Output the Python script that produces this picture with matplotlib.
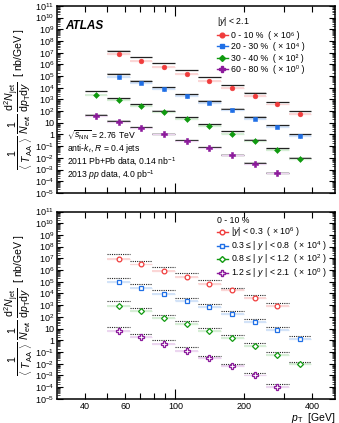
""" jet_spectra.py
Per-event jet yields scaled by 1/<T_AA>, PbPb vs pp reference. """

import numpy as np
import matplotlib.pyplot as plt
from matplotlib.lines import Line2D
from matplotlib.ticker import FixedLocator, FixedFormatter, LogLocator, NullFormatter

plt.rcParams['font.family'] = ['Liberation Sans', 'DejaVu Sans']
plt.rcParams['mathtext.fontset'] = 'custom'
plt.rcParams['mathtext.rm'] = 'Liberation Sans'
plt.rcParams['mathtext.it'] = 'Liberation Sans:italic'
plt.rcParams['mathtext.bf'] = 'Liberation Sans:bold'

# pT bin edges [GeV]
edges = np.array([40, 50, 63, 79, 100, 126, 158, 200, 251, 316, 398])

# top panel: centrality bins, |y| < 2.1  (first bin index, PbPb points, pp reference)
cent_labels = ['0 - 10 %', '20 - 30 %', '30 - 40 %', '60 - 80 %']
cent_scale = ['10⁶', '10⁴', '10²', '10⁰']
cent_start = [1, 1, 0, 0]
cent_vals = [
    [7.2e6, 2.0e6, 5.5e5, 1.5e5, 4.0e4, 1.0e4, 2.0e3, 3.7e2, 55],
    [8.1e4, 2.5e4, 7.2e3, 1.9e3, 4.9e2, 1.2e2, 22, 4.3, 0.72],
    [2.5e3, 9.3e2, 2.7e2, 78, 20, 5.1, 1.2, 0.27, 0.046, 0.0072],
    [40, 11.5, 3.5, 1.0, 0.25, 0.063, 0.016, 2.7e-3, 4.9e-4],
]
cent_ref = [
    [1.5e7, 4.0e6, 1.2e6, 3.2e5, 7.8e4, 1.6e4, 3.7e3, 5.5e2, 93],
    [1.5e5, 4.0e4, 1.1e4, 2.7e3, 7.2e2, 1.5e2, 32, 6.3, 1.0],
    [4.9e3, 1.2e3, 3.7e2, 1.1e2, 29, 7.2, 1.8, 0.37, 0.063, 0.010],
    [49, 14, 4.0, 1.15, 0.31, 0.081, 0.019, 3.7e-3, 5.5e-4],
]

# bottom panel: 0-10 %, rapidity bins
rap_labels = [r'$|y|$ < 0.3', r'0.3 ≤ | $y$ | < 0.8', r'0.8 ≤ | $y$ | < 1.2', r'1.2 ≤ | $y$ | < 2.1']
rap_scale = [r'$10^{6}$', r'$10^{4}$', r'$10^{2}$', r'$10^{0}$']
rap_start = [1, 1, 1, 1]
rap_vals = [
    [8.9e6, 3.0e6, 8.5e5, 2.5e5, 7.1e4, 1.9e4, 4.2e3, 9.3e2],
    [9.1e4, 3.0e4, 8.5e3, 2.5e3, 6.6e2, 1.7e2, 37, 7.8, 1.4],
    [8.7e2, 3.0e2, 87, 23, 5.9, 1.6, 0.33, 0.060, 0.0089],
    [6.8, 1.9, 0.49, 0.12, 0.029, 6.0e-3, 1.0e-3, 1.0e-4],
]
rap_ref = [
    [2.2e7, 6.0e6, 1.9e6, 5.4e5, 1.35e5, 3.2e4, 7.1e3, 1.5e3],
    [2.1e5, 6.2e4, 1.8e4, 4.5e3, 1.3e3, 3.2e2, 68, 13, 2.3],
    [2.3e3, 5.9e2, 1.6e2, 43, 11.5, 2.7, 0.56, 0.11, 0.013],
    [13, 3.5, 1.07, 0.25, 0.049, 9.5e-3, 1.6e-3, 1.7e-4],
]

colors = ['#f03c3c', '#1f6fe6', '#109a10', '#8c1a9c']
lights = ['#fbd6d6', '#d3e3f8', '#d6eed6', '#ecd6f0']
markers = ['o', 's', 'D', 'P']
msizes = [3.4, 3.4, 3.0, 4.2]


def draw_series(ax, i0, vals, ref, k, filled, ref_ls):
    vals = np.asarray(vals, float)
    ref = np.asarray(ref, float)
    lo = edges[i0:i0 + len(vals)]
    hi = edges[i0 + 1:i0 + 1 + len(vals)]
    x = np.sqrt(lo * hi)
    f = 10 ** 0.08
    ax.bar(lo, vals * (f - 1 / f), bottom=vals / f, width=hi - lo, align='edge',
           color=lights[k], lw=0, zorder=1)
    if ref_ls == '-':
        g = 10 ** 0.05
        ax.bar(lo, ref * (g - 1 / g), bottom=ref / g, width=hi - lo, align='edge',
               color='#d8d8d8', lw=0, zorder=1)
        ax.hlines(ref, lo, hi, colors='#222222', linestyles='-', lw=0.9, zorder=2)
    else:
        ax.hlines(ref, lo, hi, colors='#222222', linestyles=(0, (1.0, 1.0)), lw=0.8, zorder=2)
    ax.hlines(vals, lo, hi, colors=lights[k], lw=0.9, zorder=2)
    e = 10 ** 0.12
    ax.errorbar(x, vals, yerr=[vals - vals / e, vals * e - vals], fmt='none',
                ecolor=colors[k], elinewidth=0.9, capsize=0, zorder=3)
    ax.plot(x, vals, ls='none', marker=markers[k], ms=msizes[k], color=colors[k],
            mfc=colors[k] if filled else 'white', mew=0.9 if not filled else 0.4, zorder=4)


def style_axes(ax, show_xlabels):
    ax.set_xscale('log')
    ax.set_yscale('log')
    ax.set_xlim(30, 505)
    ax.set_ylim(1e-5, 1e11)
    ax.xaxis.set_major_locator(FixedLocator([100]))
    ax.xaxis.set_minor_locator(FixedLocator([40, 50, 60, 70, 80, 90, 200, 300, 400]))
    if show_xlabels:
        ax.xaxis.set_major_formatter(FixedFormatter(['100']))
        ax.xaxis.set_minor_formatter(FixedFormatter(['40', '', '60', '', '', '', '200', '', '400']))
    else:
        ax.xaxis.set_major_formatter(NullFormatter())
        ax.xaxis.set_minor_formatter(NullFormatter())
    decades = np.arange(-5, 12)
    ax.yaxis.set_major_locator(FixedLocator(10.0 ** decades))
    ylabels = []
    for d in decades:
        if d == 0:
            ylabels.append('1')
        elif d == 1:
            ylabels.append('10')
        else:
            ylabels.append(r'$10^{%d}$' % d)
    ax.yaxis.set_major_formatter(FixedFormatter(ylabels))
    ax.yaxis.set_minor_locator(LogLocator(base=10, subs=np.arange(2, 10), numticks=100))
    ax.yaxis.set_minor_formatter(NullFormatter())
    ax.tick_params(which='both', direction='in', top=True, right=True, labelsize=6.5, pad=2)
    ax.tick_params(which='major', axis='x', length=7, width=0.8)
    ax.tick_params(which='minor', axis='x', length=4, width=0.8)
    ax.tick_params(which='major', axis='y', length=4, width=0.8)
    ax.tick_params(which='minor', axis='y', length=2, width=0.5)
    for s in ax.spines.values():
        s.set_linewidth(1.1)


ylab = (r'$\dfrac{1}{\langle\ T_{\rm AA}\ \rangle}\ \dfrac{1}{N_{\rm evt}}\ '
        r'\dfrac{{\rm d}^{2}N_{\rm jet}}{{\rm d}p_{\rm T}{\rm d}y}$  [ nb/GeV ]')

fig = plt.figure(figsize=(3.39, 4.23), dpi=100)
ax1 = fig.add_axes([0.168, 0.544, 0.820, 0.442])
ax2 = fig.add_axes([0.168, 0.057, 0.820, 0.443])

for k in range(4):
    draw_series(ax1, cent_start[k], cent_vals[k], cent_ref[k], k, True, '-')
    draw_series(ax2, rap_start[k], rap_vals[k], rap_ref[k], k, False, ':')

style_axes(ax1, False)
style_axes(ax2, True)

for ax in (ax1, ax2):
    ax.set_ylabel(ylab, fontsize=7.6, labelpad=0)
    ax.yaxis.set_label_coords(-0.078, 0.5)

# legends
legkw = dict(loc='upper left', frameon=False, fontsize=6.3, title_fontsize=6.3,
             handlelength=1.3, handletextpad=0.3, borderpad=0.0, borderaxespad=0.0)
h1 = [Line2D([], [], color=colors[k], marker=markers[k], ms=msizes[k], lw=1.0)
      for k in range(4)]
l1 = ['%s  ( × %s )' % (cent_labels[k], cent_scale[k]) for k in range(4)]
leg1 = ax1.legend(h1, l1, title=r'$|y|$ < 2.1', bbox_to_anchor=(0.575, 0.95),
                  labelspacing=0.28, **legkw)
leg1._legend_box.align = 'left'

h2 = [Line2D([], [], color=colors[k], marker=markers[k], ms=msizes[k], lw=1.0, mfc='white')
      for k in range(4)]
l2 = [r'%s  ( $\times$ %s )' % (rap_labels[k], rap_scale[k]) for k in range(4)]
leg2 = ax2.legend(h2, l2, title='0 - 10 %', bbox_to_anchor=(0.575, 0.975),
                  labelspacing=0.0, **legkw)
leg2._legend_box.align = 'left'

ax1.text(0.03, 0.895, 'ATLAS', transform=ax1.transAxes, fontsize=8.5,
         fontweight='bold', style='italic', va='center')
info = [r'$\sqrt{s_{\rm NN}}$ = 2.76 TeV', r'anti-$k_{t}$, $R$ = 0.4 jets',
        r'2011 Pb+Pb data, 0.14 nb$^{-1}$', r'2013 $pp$ data, 4.0 pb$^{-1}$']
for i, t in enumerate(info):
    ax1.text(0.035, 0.31 - i * 0.071, t, transform=ax1.transAxes, fontsize=6.2, va='center')

fig.text(0.988, 1 - 411 / 423, r'$p_{\rm T}$  [GeV]', ha='right', va='top', fontsize=7.5)

plt.savefig('out.png', dpi=100)
